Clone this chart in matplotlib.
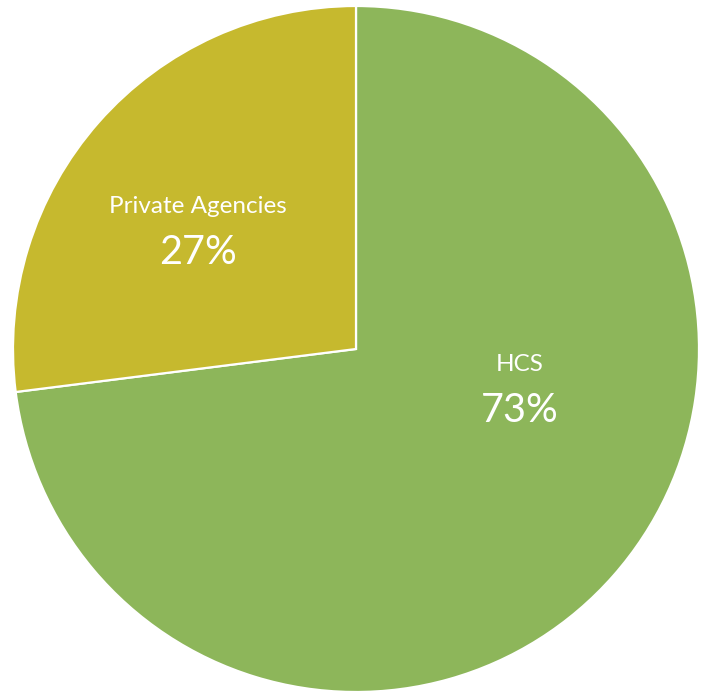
import matplotlib.pyplot as plt

# share of placements by provider
labels = ["HCS", "Private Agencies"]
shares = [73, 27]
colors = ["#8DB65A", "#C6B92E"]

# label anchors (data coords, unit circle)
name_pos = [(0.478, -0.045), (-0.461, 0.415)]
pct_pos = [(0.478, -0.18), (-0.461, 0.28)]

plt.rcParams['font.family'] = ['Lato', 'DejaVu Sans']

fig = plt.figure(figsize=(7.04, 6.92), dpi=100)
ax = fig.add_axes([13 / 704, 0 / 692, 686 / 704, 686 / 692])

ax.pie(shares, colors=colors, startangle=90, counterclock=False,
       radius=1.0, wedgeprops=dict(edgecolor="white", linewidth=1.6))

for lab, val, (nx, ny), (px, py) in zip(labels, shares, name_pos, pct_pos):
    ax.text(nx, ny, lab, ha="center", va="center", color="white", fontsize=17.5)
    ax.text(px, py, f"{val}%", ha="center", va="center", color="white", fontsize=28.5)

ax.set_xlim(-1, 1)
ax.set_ylim(-1, 1)
ax.set_aspect("equal")
ax.axis("off")

fig.savefig("out.png", dpi=100)
